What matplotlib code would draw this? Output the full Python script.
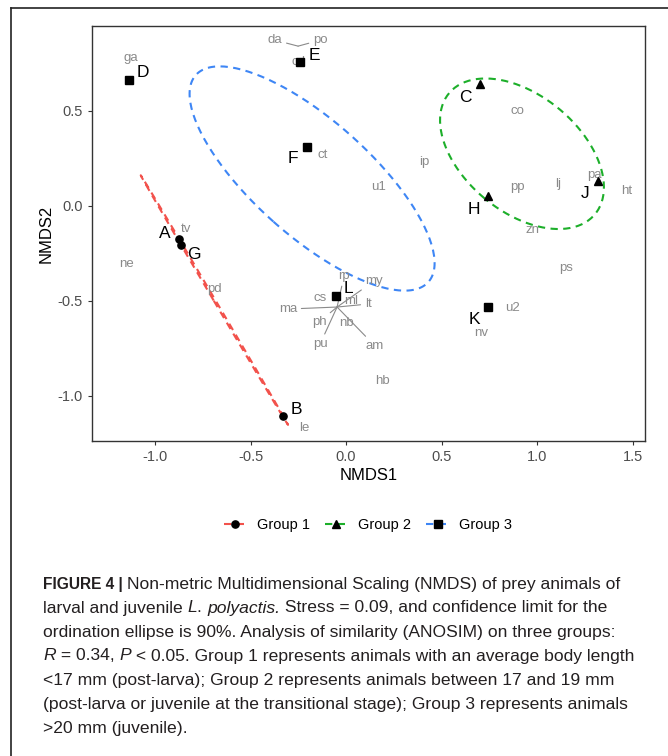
import numpy as np
import matplotlib
matplotlib.use("Agg")
import matplotlib.pyplot as plt
from matplotlib.lines import Line2D

plt.rcParams['font.family'] = ['Liberation Sans', 'DejaVu Sans']

# ---------------- data ----------------
site_names = ['A', 'B', 'G', 'C', 'H', 'J', 'D', 'E', 'F', 'K', 'L']
site_x = [-0.874, -0.330, -0.864, 0.700, 0.743, 1.320, -1.136, -0.240, -0.204, 0.743, -0.052]
site_y = [-0.175, -1.108, -0.206, 0.640, 0.051, 0.130, 0.662, 0.756, 0.308, -0.533, -0.476]
site_group = [1, 1, 1, 2, 2, 2, 3, 3, 3, 3, 3]

species_names = ['ga', 'da', 'po', 'cd', 'ct', 'ip', 'u1', 'co', 'pp', 'lj', 'pa', 'ht', 'zn', 'ps',
                 'tv', 'ne', 'pd', 'le', 'u2', 'nv', 'hb',
                 'rp', 'my', 'cs', 'ml', 'lt', 'ma', 'ph', 'nb', 'pu', 'am']
species_x = [-1.125, -0.251, -0.251, -0.250, -0.120, 0.410, 0.168, 0.895, 0.895, 1.110, 1.300, 1.470, 0.974, 1.150,
             -0.840, -1.147, -0.690, -0.220, 0.870, 0.707, 0.190,
             -0.047, -0.047, -0.047, -0.047, -0.047, -0.047, -0.047, -0.047, -0.047, -0.047]
species_y = [0.780, 0.840, 0.840, 0.756, 0.266, 0.230, 0.098, 0.498, 0.098, 0.113, 0.160, 0.077, -0.128, -0.330,
             -0.120, -0.307, -0.440, -1.170, -0.540, -0.670, -0.920,
             -0.533, -0.533, -0.533, -0.533, -0.533, -0.533, -0.533, -0.533, -0.533, -0.533]

group_labels = ['Group 1', 'Group 2', 'Group 3']
group_colors = ['#F2524C', '#1DAF2A', '#3E86F5']
group_markers = ['o', '^', 's']
ellipse_conf = 0.90

x_ticks = [-1.0, -0.5, 0.0, 0.5, 1.0, 1.5]
y_ticks = [-1.0, -0.5, 0.0, 0.5]

# ---------------- layout (label offsets in pixels, repel-like) ----------------
site_offsets = {'A': (-14, 6), 'B': (13, 7), 'G': (13, -10), 'C': (-14, -13), 'H': (-14, -13),
                'J': (-13, -12), 'D': (14, 7), 'E': (14, 7), 'F': (-14, -11), 'K': (-14, -12),
                'L': (12, 8)}
species_offsets = {'da': (-23, 6), 'po': (22, 6), 'rp': (7, 31), 'my': (37, 26), 'cs': (-17, 9),
                   'ml': (14, 6), 'lt': (31, 3), 'ma': (-49, -2), 'ph': (-18, -15), 'nb': (9, -16),
                   'pu': (-17, -37), 'am': (38, -39)}

W, H = 668, 756
fig = plt.figure(figsize=(W / 100, H / 100), dpi=100)
ax = fig.add_axes([92 / W, 1 - 441 / H, (645 - 92) / W, (441 - 26) / H])
ax.set_xlim(-1.33, 1.565)
ax.set_ylim(-1.238, 0.946)

# ellipses (ordiellipse-like, kind = "se")
t = np.sqrt(-2 * np.log(1 - ellipse_conf))
theta = np.linspace(0, 2 * np.pi, 200)
sx = np.array(site_x)
sy = np.array(site_y)
sg = np.array(site_group)
for gi in range(3):
    m = sg == gi + 1
    pts = np.column_stack([sx[m], sy[m]])
    n = len(pts)
    mu = pts.mean(axis=0)
    cov = np.cov(pts.T) / n
    ev, evec = np.linalg.eigh(cov)
    ev = np.clip(ev, 0, None)
    circ = np.vstack([np.cos(theta), np.sin(theta)])
    ell = (evec @ np.diag(np.sqrt(ev)) @ circ) * t
    ax.plot(mu[0] + ell[0], mu[1] + ell[1], color=group_colors[gi], lw=1.5,
            linestyle=(0, (3.5, 2.6)), zorder=2)

# site points
for gi in range(3):
    m = sg == gi + 1
    ax.plot(sx[m], sy[m], linestyle='none', marker=group_markers[gi], color='black',
            ms=5.2 if group_markers[gi] != '^' else 5.8, zorder=4)

# species labels
for name, x, y in zip(species_names, species_x, species_y):
    if name in species_offsets:
        dx, dy = species_offsets[name]
        dist = np.hypot(dx, dy)
        ax.annotate(name, xy=(x, y), xytext=(dx, dy), textcoords='offset pixels',
                    ha='center', va='center', fontsize=9.5, color='#8A8A8A', zorder=3,
                    arrowprops=None if dist < 20 else dict(arrowstyle='-', color='#8A8A8A',
                                                            lw=0.8, shrinkA=1, shrinkB=0))
    else:
        ax.text(x, y, name, ha='center', va='center', fontsize=9.5, color='#8A8A8A', zorder=3)

# site labels
for name, x, y in zip(site_names, site_x, site_y):
    dx, dy = site_offsets[name]
    ax.annotate(name, xy=(x, y), xytext=(dx, dy), textcoords='offset pixels',
                ha='center', va='center', fontsize=12.5, color='black', zorder=5)

ax.set_xticks(x_ticks)
ax.set_xticklabels([f'{v:.1f}' for v in x_ticks])
ax.set_yticks(y_ticks)
ax.set_yticklabels([f'{v:.1f}' for v in y_ticks])
ax.tick_params(axis='both', colors='#333333', labelcolor='#4D4D4D', labelsize=10.5,
               length=3, width=0.8)
for sp in ax.spines.values():
    sp.set_color('#333333')
    sp.set_linewidth(1.0)
ax.set_xlabel('NMDS1', fontsize=12, color='black', labelpad=3)
ax.set_ylabel('NMDS2', fontsize=12, color='black', labelpad=3)

# legend
handles = [Line2D([0], [0], color=group_colors[i], lw=1.5, linestyle=(0, (3.5, 2.6)),
                  marker=group_markers[i], markerfacecolor='black', markeredgecolor='black',
                  ms=5.2 if group_markers[i] != '^' else 5.8) for i in range(3)]
fig.legend(handles, group_labels, loc='center', bbox_to_anchor=(368 / W, 1 - 525 / H), ncol=3,
           frameon=False, fontsize=10.5, handlelength=1.6, columnspacing=1.0, handletextpad=0.7)

# outer frame
fig.add_artist(Line2D([11 / W, 11 / W], [1 - 8 / H, 0], transform=fig.transFigure,
                      color='#222222', lw=1.2))
fig.add_artist(Line2D([11 / W, 1], [1 - 8 / H, 1 - 8 / H], transform=fig.transFigure,
                      color='#222222', lw=1.2))

# caption
cap_font = ['Liberation Sans Narrow', 'Liberation Sans', 'DejaVu Sans']
cap_lines = [
    [('FIGURE 4 | ', 'bold', 'normal'), ('Non-metric Multidimensional Scaling (NMDS) of prey animals of', 'normal', 'normal')],
    [('larval and juvenile ', 'normal', 'normal'), ('L', 'normal', 'italic'), ('. ', 'normal', 'normal'),
     ('polyactis.', 'normal', 'italic'), (' Stress = 0.09, and confidence limit for the', 'normal', 'normal')],
    [('ordination ellipse is 90%. Analysis of similarity (ANOSIM) on three groups:', 'normal', 'normal')],
    [('R', 'normal', 'italic'), (' = 0.34, ', 'normal', 'normal'), ('P', 'normal', 'italic'),
     (' < 0.05. Group 1 represents animals with an average body length', 'normal', 'normal')],
    [('<17 mm (post-larva); Group 2 represents animals between 17 and 19 mm', 'normal', 'normal')],
    [('(post-larva or juvenile at the transitional stage); Group 3 represents animals', 'normal', 'normal')],
    [('>20 mm (juvenile).', 'normal', 'normal')],
]
fig.canvas.draw()
renderer = fig.canvas.get_renderer()
y0 = 584
for i, segs in enumerate(cap_lines):
    xpix = 43
    ypix = y0 + i * 24
    for txt, wt, st in segs:
        fs = 11.2 if wt == 'bold' else 12.6
        tt = fig.text(xpix / W, 1 - ypix / H, txt, fontsize=fs, fontweight=wt, fontstyle=st,
                      family=cap_font, color='#231F20', ha='left', va='center')
        bb = tt.get_window_extent(renderer=renderer)
        xpix += bb.width

fig.savefig('out.png', dpi=100)
